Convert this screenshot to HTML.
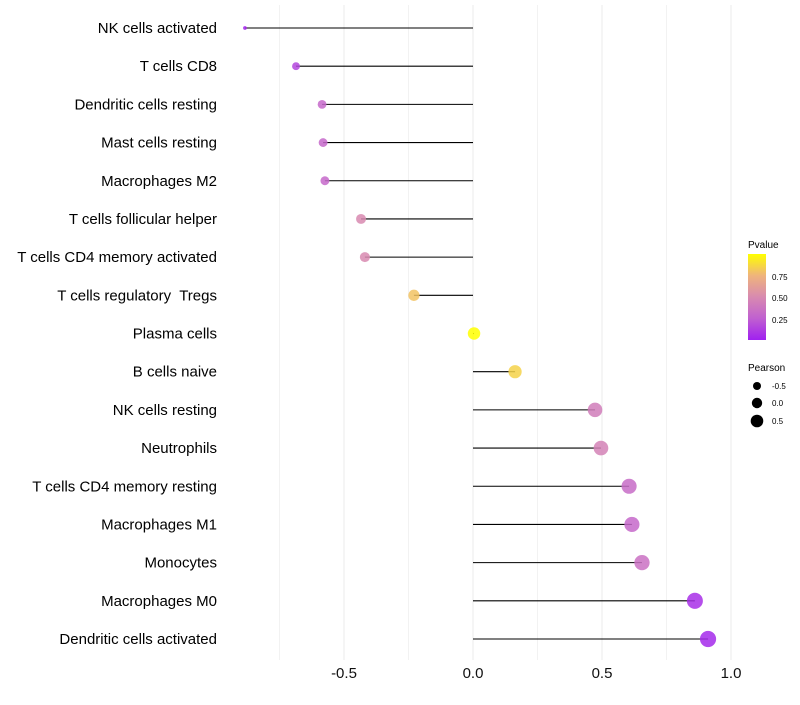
<!DOCTYPE html>
<html><head><meta charset="utf-8"><style>
body{margin:0;background:#fff;font-family:"Liberation Sans",sans-serif;}
text{white-space:pre;}
</style></head><body>
<svg id="chart" width="800" height="700" font-family="Liberation Sans, sans-serif">
<defs><linearGradient id="pg" x1="0" y1="1" x2="0" y2="0">
<stop offset="0" stop-color="#a020f0"/><stop offset="0.25" stop-color="#c060d0"/><stop offset="0.5" stop-color="#d88ab0"/><stop offset="0.75" stop-color="#efb47c"/><stop offset="1" stop-color="#ffff00"/></linearGradient></defs>
<g id="grid"></g><g id="marks"></g><g id="labels"></g>
<g>
<text x="748" y="248" font-size="10">Pvalue</text>
<rect x="748" y="254" width="18" height="86" fill="url(#pg)"/>
<text x="772" y="280" font-size="8">0.75</text><text x="772" y="301" font-size="8">0.50</text><text x="772" y="323" font-size="8">0.25</text>
<text x="748" y="371" font-size="10">Pearson</text>
<circle cx="757" cy="386" r="4"/><text x="772" y="389" font-size="8">-0.5</text>
<circle cx="757" cy="403" r="5.2"/><text x="772" y="406" font-size="8">0.0</text>
<circle cx="757" cy="421" r="6.3"/><text x="772" y="424" font-size="8">0.5</text>
</g>
</svg>
<script>
const categories=["NK cells activated","T cells CD8","Dendritic cells resting","Mast cells resting","Macrophages M2","T cells follicular helper","T cells CD4 memory activated","T cells regulatory  Tregs","Plasma cells","B cells naive","NK cells resting","Neutrophils","T cells CD4 memory resting","Macrophages M1","Monocytes","Macrophages M0","Dendritic cells activated"];
const pearson=[-0.884,-0.686,-0.585,-0.581,-0.574,-0.434,-0.419,-0.229,0.004,0.163,0.473,0.496,0.605,0.616,0.655,0.860,0.911];
const pvalue=[0.02,0.15,0.3,0.3,0.3,0.5,0.5,0.8,1.0,0.85,0.42,0.45,0.32,0.3,0.35,0.06,0.04];
const xTicks=[-0.5,0,0.5,1.0];
const xTickLabels=["-0.5","0.0","0.5","1.0"];
const NS="http://www.w3.org/2000/svg";
const x=v=>473+v*258;
const y=i=>28+i*(611/16);
const pmin=Math.min(...pearson),pmax=Math.max(...pearson);
const rad=v=>1.25*(1+5*Math.sqrt((v-pmin)/(pmax-pmin)))+0.6;
function col(p){const s=[[0,[160,32,240]],[0.25,[192,96,208]],[0.5,[216,138,176]],[0.75,[239,180,124]],[1,[255,255,0]]];
for(let k=0;k<4;k++){if(p<=s[k+1][0]){const t=(p-s[k][0])/(s[k+1][0]-s[k][0]);const c=s[k][1].map((a,j)=>Math.round(a+(s[k+1][1][j]-a)*t));return `rgb(${c})`;}}return "rgb(255,255,0)";}
function mk(t,a,p){const e=document.createElementNS(NS,t);for(const k in a)e.setAttribute(k,a[k]);p.appendChild(e);return e;}
const G=document.getElementById('grid'),M=document.getElementById('marks'),L=document.getElementById('labels');
[-0.75,-0.25,0.25,0.75].forEach(v=>mk('line',{x1:x(v),x2:x(v),y1:5,y2:660,stroke:'#f2f2f2','stroke-width':1},G));
xTicks.forEach((v,i)=>{mk('line',{x1:x(v),x2:x(v),y1:5,y2:660,stroke:'#ebebeb','stroke-width':1},G);
const t=mk('text',{x:x(v),y:678,'font-size':15,'text-anchor':'middle',fill:'#111'},L);t.textContent=xTickLabels[i];

});
categories.forEach((c,i)=>{
const t=mk('text',{x:217,y:y(i)+5,'font-size':15,'text-anchor':'end',fill:'#000'},L);t.textContent=c;


const ln=mk('line',{x1:x(0),x2:x(pearson[i]),y1:y(i),y2:y(i),stroke:'#000','stroke-width':1.1},M);


const ci=mk('circle',{cx:x(pearson[i]),cy:y(i),r:rad(pearson[i]),fill:col(pvalue[i]),'fill-opacity':0.85},M);

});
</script>
</body></html>
